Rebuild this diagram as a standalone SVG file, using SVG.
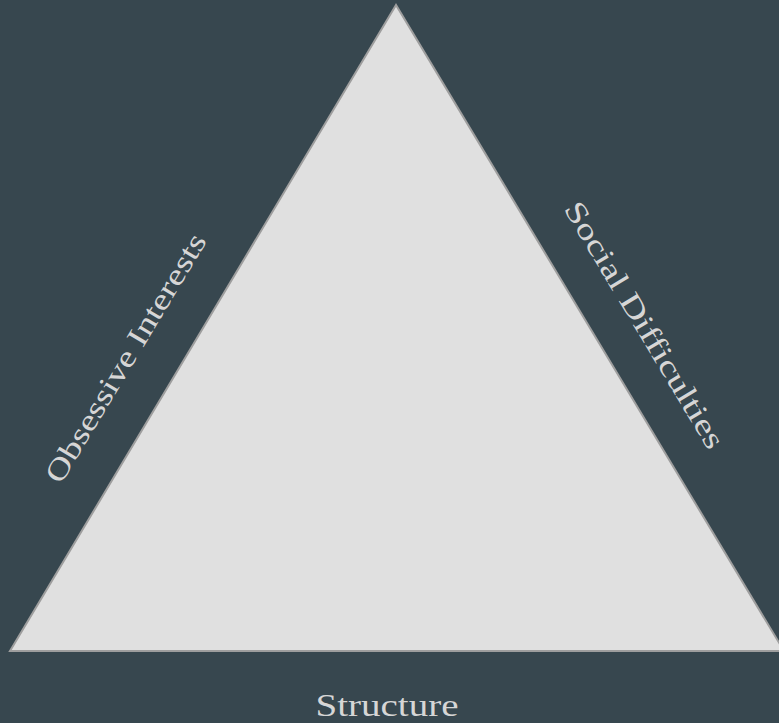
<svg xmlns="http://www.w3.org/2000/svg" width="779" height="723" viewBox="0 0 779 723">
<style>
.lbl{font-family:"Liberation Serif","DejaVu Serif",serif;fill:#d6d6d6;text-anchor:middle}
</style>
<rect x="0" y="0" width="779" height="723" fill="#37474f"/>
<g id="triangle">
<polygon points="396,5 10,651 784,651" fill="#e0e0e0" stroke="#9e9e9e" stroke-width="2"/>
</g>
<g id="label-left">
<text class="lbl" font-size="30" textLength="285" lengthAdjust="spacingAndGlyphs" transform="translate(134,363) rotate(-59.04)">Obsessive Interests</text>
</g>
<g id="label-right">
<text class="lbl" font-size="30" textLength="283" lengthAdjust="spacingAndGlyphs" transform="translate(636,330) rotate(59.04)">Social Difficulties</text>
</g>
<g id="label-bottom">
<text class="lbl" font-size="32" x="387" y="716" textLength="143" lengthAdjust="spacingAndGlyphs">Structure</text>
</g>
</svg>
